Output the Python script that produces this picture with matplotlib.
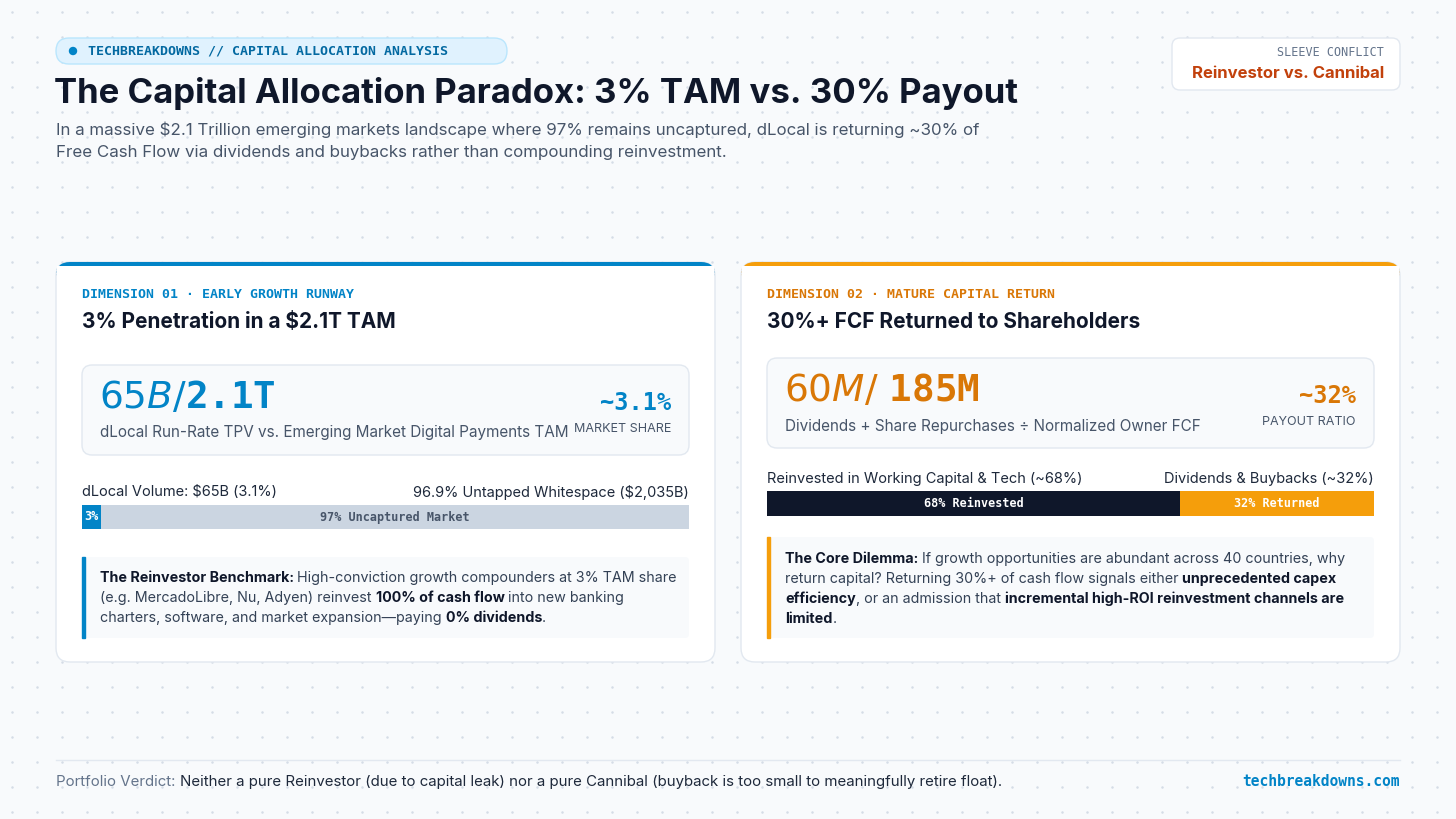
import matplotlib
matplotlib.use("Agg")
import matplotlib.pyplot as plt
from matplotlib.patches import FancyBboxPatch, Rectangle, Circle

# --- data ---
tam_labels = ["3%", "97% Uncaptured Market"]
tam_shares = [3.1, 96.9]
fcf_labels = ["68% Reinvested", "32% Returned"]
fcf_shares = [68, 32]

W, H = 1456, 819
SANS = "Inter"
MONO = "DejaVu Sans Mono"
BLUE = "#0284c7"
ORANGE = "#d97706"
DARK = "#0f172a"
SLATE = "#475569"

fig = plt.figure(figsize=(W / 100, H / 100), dpi=100)
fig.patch.set_facecolor("#f8fafc")
ax = fig.add_axes([0, 0, 1, 1])
ax.set_xlim(0, W)
ax.set_ylim(H, 0)
ax.axis("off")
renderer = fig.canvas.get_renderer()

# dotted background
for gx in range(12, W, 25):
    for gy in range(12, H, 25):
        ax.plot(gx, gy, ".", ms=1.6, color="#d5dce6", zorder=0)


def box(x0, y0, x1, y1, fc, ec, r=8, lw=1, z=1):
    ax.add_patch(FancyBboxPatch((x0, y0), x1 - x0, y1 - y0,
                                boxstyle=f"round,pad=0,rounding_size={r}",
                                fc=fc, ec=ec, lw=lw, zorder=z))


def txt(x, y, s, size, color, bold=False, family=SANS, ha="left", z=5):
    return ax.text(x, y, s, fontsize=size, color=color, family=family,
                   fontweight="bold" if bold else "normal",
                   ha=ha, va="center", zorder=z)


def rich(x, y, parts, size, z=5):
    for s, bold, color in parts:
        t = txt(x, y, s, size, color, bold, z=z)
        x += t.get_window_extent(renderer).width


# header
box(56, 38, 507, 64, "#e0f2fe", "#bae6fd", r=13)
ax.add_patch(Circle((73, 51), 3.5, color=BLUE, zorder=3))
txt(88, 51, "TECHBREAKDOWNS // CAPITAL ALLOCATION ANALYSIS", 9.5, "#0369a1", True, MONO)
txt(54, 94, "The Capital Allocation Paradox: 3% TAM vs. 30% Payout", 25, DARK, True)
txt(56, 130, "In a massive $2.1 Trillion emerging markets landscape where 97% remains uncaptured, "
    "dLocal is returning ~30% of", 12.2, SLATE)
txt(56, 153, "Free Cash Flow via dividends and buybacks rather than compounding reinvestment.", 12.2, SLATE)

box(1172, 38, 1400, 90, "white", "#e2e8f0", r=8)
txt(1384, 53, "SLEEVE CONFLICT", 8.5, "#64748b", False, MONO, ha="right")
txt(1384, 73, "Reinvestor vs. Cannibal", 12, "#c2410c", True, ha="right")


def card(x0, color, label, title):
    x1 = x0 + 659
    box(x0, 262, x1, 662, "white", "#e2e8f0", r=14, z=1)
    ax.add_patch(FancyBboxPatch((x0, 262), x1 - x0, 20,
                                boxstyle="round,pad=0,rounding_size=14",
                                fc=color, ec="none", zorder=1.5))
    ax.add_patch(Rectangle((x0 + 1, 266), x1 - x0 - 2, 20, fc="white", ec="none", zorder=1.6))
    txt(x0 + 26, 295, label, 9.5, color, True, MONO)
    txt(x0 + 26, 322, title, 15, DARK, True)


def share_bar(x0, y0, x1, y1, labels, shares, colors, tcolors, fsize):
    bx = fig.add_axes([x0 / W, 1 - y1 / H, (x1 - x0) / W, (y1 - y0) / H])
    left = 0
    for lab, v, c, tc in zip(labels, shares, colors, tcolors):
        bx.barh(0, v, left=left, height=1, color=c)
        bx.text(left + v / 2, 0, lab, ha="center", va="center", color=tc,
                fontsize=fsize, family=MONO, fontweight="bold")
        left += v
    bx.set_xlim(0, sum(shares))
    bx.set_ylim(-0.5, 0.5)
    bx.axis("off")


# card 1
card(56, BLUE, "DIMENSION 01 · EARLY GROWTH RUNWAY", "3% Penetration in a $2.1T TAM")
box(82, 365, 689, 455, "#f8fafc", "#e2e8f0", r=10, z=2)
txt(99, 398, "$65B / $2.1T", 27, BLUE, True, MONO)
txt(100, 433, "dLocal Run-Rate TPV vs. Emerging Market Digital Payments TAM", 11, SLATE)
txt(671, 403, "~3.1%", 17, BLUE, True, MONO, ha="right")
txt(671, 429, "MARKET SHARE", 9, SLATE, ha="right")
txt(82, 492, "dLocal Volume: $65B (3.1%)", 10.5, "#1e293b")
txt(689, 492, "96.9% Untapped Whitespace ($2,035B)", 10.5, "#1e293b", ha="right")
share_bar(82, 505, 689, 529, tam_labels, tam_shares, [BLUE, "#cbd5e1"], ["white", SLATE], 8.5)
box(82, 557, 689, 638, "#f8fafc", "none", r=4, z=2)
ax.add_patch(Rectangle((82, 557), 3, 81, color=BLUE, zorder=3))
rich(100, 578, [("The Reinvestor Benchmark: ", True, DARK),
                ("High-conviction growth compounders at 3% TAM share", False, "#334155")], 10.3)
rich(100, 598, [("(e.g. MercadoLibre, Nu, Adyen) reinvest ", False, "#334155"),
                ("100% of cash flow", True, DARK),
                (" into new banking", False, "#334155")], 10.3)
rich(100, 618, [("charters, software, and market expansion—paying ", False, "#334155"),
                ("0% dividends", True, DARK), (".", False, "#334155")], 10.3)

# card 2
card(741, "#f59e0b", "DIMENSION 02 · MATURE CAPITAL RETURN", "30%+ FCF Returned to Shareholders")
ax.texts[-2].set_color(ORANGE)
box(767, 358, 1374, 448, "#f8fafc", "#e2e8f0", r=10, z=2)
txt(784, 391, "$60M / ~$185M", 27, ORANGE, True, MONO)
txt(785, 426, "Dividends + Share Repurchases ÷ Normalized Owner FCF", 11, SLATE)
txt(1356, 396, "~32%", 17, ORANGE, True, MONO, ha="right")
txt(1356, 422, "PAYOUT RATIO", 9, SLATE, ha="right")
txt(767, 479, "Reinvested in Working Capital & Tech (~68%)", 10.5, "#1e293b")
txt(1374, 479, "Dividends & Buybacks (~32%)", 10.5, "#1e293b", ha="right")
share_bar(767, 491, 1374, 516, fcf_labels, fcf_shares, [DARK, "#f59e0b"], ["white", "white"], 8.5)
box(767, 537, 1374, 638, "#f8fafc", "none", r=4, z=2)
ax.add_patch(Rectangle((767, 537), 3, 101, color="#f59e0b", zorder=3))
rich(785, 559, [("The Core Dilemma: ", True, DARK),
                ("If growth opportunities are abundant across 40 countries, why", False, "#334155")], 10.3)
rich(785, 579, [("return capital? Returning 30%+ of cash flow signals either ", False, "#334155"),
                ("unprecedented capex", True, DARK)], 10.3)
rich(785, 599, [("efficiency", True, DARK), (", or an admission that ", False, "#334155"),
                ("incremental high-ROI reinvestment channels are", True, DARK)], 10.3)
rich(785, 619, [("limited", True, DARK), (".", False, "#334155")], 10.3)

# footer
ax.plot([56, 1400], [760, 760], color="#e2e8f0", lw=1)
rich(56, 782, [("Portfolio Verdict: ", False, "#64748b"),
               ("Neither a pure Reinvestor (due to capital leak) nor a pure Cannibal "
                "(buyback is too small to meaningfully retire float).", False, "#1e293b")], 10.8)
txt(1400, 782, "techbreakdowns.com", 10.5, BLUE, True, MONO, ha="right")

fig.savefig("out.png", dpi=100, facecolor=fig.get_facecolor())
